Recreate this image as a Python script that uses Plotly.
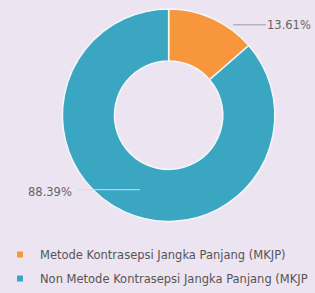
import plotly.graph_objects as go

labels = ["Metode Kontrasepsi Jangka Panjang (MKJP)", "Non Metode Kontrasepsi Jangka Panjang (MKJP"]
values = [13.61, 86.39]
value_text = ["13.61%", "88.39%"]
colors = ["#f7963c", "#3ba6c1"]

W, H = 315, 293
FONT = "DejaVu Sans, sans-serif"
fig = go.Figure()
fig.add_trace(go.Pie(
    labels=labels, values=values, hole=0.51, sort=False, direction="clockwise",
    rotation=0, marker=dict(colors=colors, line=dict(color="#f2f8fa", width=1.5)),
    textinfo="none", hoverinfo="label+percent", showlegend=False,
    domain=dict(x=[0.042, 0.992], y=[0.239, 0.969]),
))
for i, lab in enumerate(labels):
    fig.add_trace(go.Scatter(
        x=[None], y=[None], mode="markers", name=lab, legendgroup=str(i),
        marker=dict(symbol="square", size=6, color=colors[i]),
    ))

# leader lines
fig.add_shape(type="line", xref="paper", yref="paper", x0=230 / W, x1=264 / W,
              y0=1 - 25 / H, y1=1 - 25 / H, line=dict(color="#9a9aa8", width=1))
fig.add_shape(type="line", xref="paper", yref="paper", x0=68 / W, x1=133 / W,
              y0=1 - 191 / H, y1=1 - 191 / H, line=dict(color="#c5e3ec", width=1))
fig.add_annotation(x=288 / W, y=1 - 25 / H, xref="paper", yref="paper", text=value_text[0],
                   showarrow=False, xanchor="center", yanchor="middle",
                   font=dict(size=11.5, color="#666", family=FONT))
fig.add_annotation(x=40 / W, y=1 - 193 / H, xref="paper", yref="paper", text=value_text[1],
                   showarrow=False, xanchor="center", yanchor="middle",
                   font=dict(size=11.5, color="#666", family=FONT))

fig.update_layout(
    width=W, height=H, margin=dict(l=0, r=0, t=0, b=0),
    paper_bgcolor="#ece4f0", plot_bgcolor="#ece4f0",
    font=dict(family=FONT, color="#555"),
    xaxis=dict(visible=False), yaxis=dict(visible=False),
    hovermode=False,
    legend=dict(x=-0.04, y=-0.007, xanchor="left", yanchor="bottom", orientation="v",
                font=dict(size=11.5, color="#555", family=FONT), tracegroupgap=5, itemwidth=30,
                bgcolor="rgba(0,0,0,0)"),
)
fig.write_html(
    "out.html",
    config={"staticPlot": True, "displayModeBar": False},
    post_script="document.body.style.margin='0';document.body.style.background='#ece4f0';",
)
